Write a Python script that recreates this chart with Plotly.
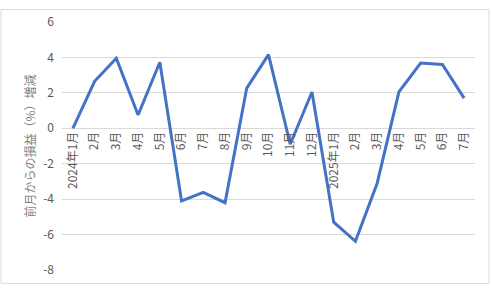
import plotly.graph_objects as go

categories = ["2024年1月", "2月", "3月", "4月", "5月", "6月", "7月", "8月", "9月", "10月",
              "11月", "12月", "2025年1月", "2月 ", "3月 ", "4月 ", "5月 ", "6月 ", "7月 "]
values = [0.0, 2.65, 3.95, 0.75, 3.73, -4.1, -3.62, -4.2, 2.27, 4.16,
          -0.9, 2.05, -5.3, -6.38, -3.1, 2.05, 3.68, 3.6, 1.7]
y_ticks = [6, 4, 2, 0, -2, -4, -6, -8]
y_tick_labels = ["6", "4", "2", "0", "-2", "-4", "-6", "-8"]
y_title = "前月からの損益（%）増減"

W, H = 491, 289
ml, mr, mt, mb = 62, 16, 14, 16
pw, ph = W - ml - mr, H - mt - mb

fig = go.Figure()
fig.add_trace(go.Scatter(
    x=list(range(len(categories))), y=values, mode="lines",
    line=dict(color="#4472C4", width=3), hoverinfo="skip"))

font = "Noto Sans CJK JP, Noto Sans, sans-serif"
fig.update_layout(
    width=W, height=H,
    margin=dict(l=ml, r=mr, t=mt, b=mb),
    paper_bgcolor="white", plot_bgcolor="white",
    showlegend=False,
    font=dict(family=font, size=12, color="#595959"),
    xaxis=dict(
        range=[-0.5, len(categories) - 0.5],
        tickmode="array", tickvals=list(range(len(categories))),
        ticktext=[c.strip() for c in categories],
        tickangle=-90, showgrid=False, zeroline=False,
        showline=False, ticks="",
        anchor="free", position=8 / 14,
        tickfont=dict(size=12, color="#595959"),
    ),
    yaxis=dict(
        range=[-8, 6], tickmode="array", tickvals=y_ticks, ticktext=y_tick_labels,
        showgrid=True, gridcolor="#D9D9D9", gridwidth=1,
        zeroline=True, zerolinecolor="#D9D9D9", zerolinewidth=1,
        showline=False, ticks="",
        ticklabelstandoff=7,
        tickfont=dict(size=12, color="#595959"),
        title=dict(text=y_title, font=dict(size=12, color="#7F7F7F"), standoff=4),
    ),
    shapes=[dict(
        type="rect", xref="paper", yref="paper",
        x0=(1 - ml) / pw, x1=(W - 2 - ml) / pw,
        y0=(H - mb - (H - 2)) / ph, y1=(H - mb - 1) / ph,
        line=dict(color="#D9D9D9", width=1), fillcolor="rgba(0,0,0,0)",
        layer="below")],
)

fig.write_html("out.html")
